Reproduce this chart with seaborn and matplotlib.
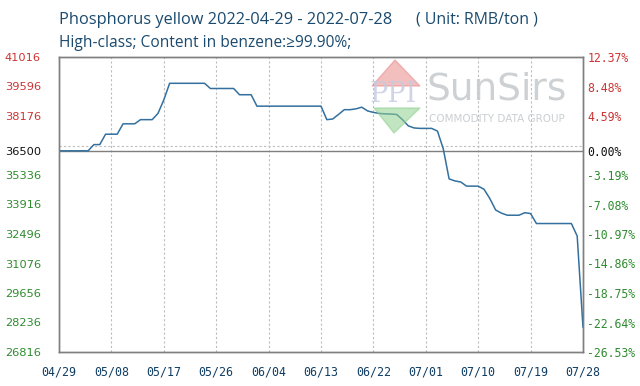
import numpy as np
import pandas as pd
import matplotlib
matplotlib.use("Agg")
import matplotlib.pyplot as plt
import matplotlib.dates as mdates
from matplotlib.patches import Polygon
import seaborn as sns

# ---------------- data ----------------
start_date = "2022-04-29"
end_date = "2022-07-28"
prices = [
    36500, 36500, 36500, 36500, 36500, 36500,
    36800, 36800,
    37300, 37300, 37300,
    37800, 37800, 37800,
    38000, 38000, 38000,
    38300, 38950,
    39750, 39750, 39750, 39750, 39750, 39750, 39750,
    39500, 39500, 39500, 39500, 39500,
    39200, 39200, 39200,
    38650, 38650, 38650, 38650, 38650, 38650, 38650, 38650, 38650, 38650, 38650, 38650,
    38000, 38030, 38250, 38480, 38480, 38520, 38600, 38420, 38350, 38300,
    38280, 38270, 38250, 38000, 37700, 37600, 37580, 37580, 37580, 37450,
    36600, 35150, 35050, 35000, 34800, 34800, 34800, 34650, 34200, 33650,
    33500, 33400, 33400, 33400, 33520, 33480, 33000, 33000, 33000, 33000,
    33000, 33000, 33000, 32400, 28000,
]
base_price = 36500
grid_values = [26816, 28236, 29656, 31076, 32496, 33916, 35336, 36756, 38176, 39596, 41016]
left_tick_values = [26816, 28236, 29656, 31076, 32496, 33916, 35336, 36500, 38176, 39596, 41016]
left_tick_labels = ["26816", "28236", "29656", "31076", "32496", "33916", "35336", "36500", "38176", "39596", "41016"]
right_tick_labels = ["-26.53%", "-22.64%", "-18.75%", "-14.86%", "-10.97%", "-7.08%", "-3.19%", "0.00%", "4.59%", "8.48%", "12.37%"]
x_tick_dates = ["2022-04-29", "2022-05-08", "2022-05-17", "2022-05-26", "2022-06-04", "2022-06-13",
                "2022-06-22", "2022-07-01", "2022-07-10", "2022-07-19", "2022-07-28"]
title_main = "Phosphorus yellow 2022-04-29 - 2022-07-28"
title_unit = "( Unit: RMB/ton )"
title_line2 = "High-class; Content in benzene:\u226599.90%;"

dates = pd.date_range(start_date, end_date, freq="D")
df = pd.DataFrame({"date": dates, "price": prices})

# ---------------- style ----------------
sns.set_style("white")
RED = "#cc3333"
GREEN = "#2e8b2e"
BLACK = "#111111"
TITLE_C = "#1a4a6e"
XTICK_C = "#0f3d63"
GRID_C = "#bdbdbd"
SPINE_C = "#7f7f7f"
LINE_C = "#33709f"

W, H = 640, 386
fig = plt.figure(figsize=(6.4, 3.86), dpi=100)
L, R, T, B = 59, 583, 57, 352
ax = fig.add_axes([L / W, 1 - B / H, (R - L) / W, (B - T) / H])

sns.lineplot(data=df, x="date", y="price", ax=ax, color=LINE_C, linewidth=1.1, zorder=5)

ax.set_xlim(dates[0], dates[-1])
ax.set_ylim(grid_values[0], grid_values[-1])
ax.set_xlabel("")
ax.set_ylabel("")

# grid
ax.set_yticks(grid_values, minor=True)
ax.yaxis.grid(True, which="minor", color=GRID_C, linestyle=(0, (2, 2)), linewidth=0.8)
ax.axhline(base_price, color=SPINE_C, linewidth=1.0, zorder=3)

xt = pd.to_datetime(x_tick_dates)
ax.set_xticks(xt)
ax.xaxis.set_major_formatter(mdates.DateFormatter("%m/%d"))
ax.xaxis.grid(True, which="major", color=GRID_C, linestyle=(0, (2, 2)), linewidth=0.8)

ax.set_yticks(left_tick_values)
ax.set_yticklabels(left_tick_labels)
ax.yaxis.grid(False, which="major")
ax.tick_params(axis="y", which="both", length=0, pad=13, labelsize=8.2)
ax.tick_params(axis="x", length=0, pad=10, labelsize=8.4, labelcolor=XTICK_C)
for lbl in ax.get_xticklabels():
    lbl.set_fontfamily("DejaVu Sans Mono")
for v, lbl in zip(left_tick_values, ax.get_yticklabels()):
    lbl.set_fontfamily("DejaVu Sans")
    lbl.set_color(RED if v > base_price else (BLACK if v == base_price else GREEN))

for s in ax.spines.values():
    s.set_color(SPINE_C)
    s.set_linewidth(1.0)

# right axis
ax2 = ax.twinx()
ax2.set_ylim(ax.get_ylim())
ax2.set_yticks(left_tick_values)
ax2.set_yticklabels(right_tick_labels)
ax2.tick_params(axis="y", length=0, pad=3, labelsize=8.3)
for v, lbl in zip(left_tick_values, ax2.get_yticklabels()):
    lbl.set_fontfamily("DejaVu Sans Mono")
    lbl.set_color(RED if v > base_price else (BLACK if v == base_price else GREEN))
for s in ax2.spines.values():
    s.set_color(SPINE_C)
    s.set_linewidth(1.0)

# titles
fig.text(L / W, 1 - 24 / H, title_main, fontsize=11.8, color=TITLE_C,
         fontfamily="Open Sans", va="baseline", ha="left")
fig.text(416 / W, 1 - 24 / H, title_unit, fontsize=11.4, color=TITLE_C,
         fontfamily="Open Sans", va="baseline", ha="left")
fig.text(L / W, 1 - 46.7 / H, title_line2, fontsize=11.2, color=TITLE_C,
         fontfamily=["Open Sans", "DejaVu Sans"], va="baseline", ha="left")

# watermark logo (figure pixel coords)
def px(x, y):
    return (x / W, 1 - y / H)

red_tri = Polygon([px(395, 60), px(372, 86), px(420, 86)], closed=True,
                  transform=fig.transFigure, color="#e88a8a", alpha=0.55, zorder=1)
green_tri = Polygon([px(374, 108), px(420, 108), px(394, 133)], closed=True,
                    transform=fig.transFigure, color="#8fcf8f", alpha=0.55, zorder=1)
fig.add_artist(red_tri)
fig.add_artist(green_tri)
fig.text(*px(393, 95), "PPI", fontsize=19.5, color="#c3cbe0", alpha=0.8,
         ha="center", va="center", fontfamily="DejaVu Serif")
fig.text(*px(497, 89), "SunSirs", fontsize=27, color="#c5c9cd", alpha=0.85,
         ha="center", va="center", fontfamily="DejaVu Sans")
fig.text(*px(497, 119), "COMMODITY DATA GROUP", fontsize=7.5, color="#c5c9cd", alpha=0.9,
         ha="center", va="center", fontfamily="DejaVu Sans")

fig.savefig("out.png", dpi=100)
